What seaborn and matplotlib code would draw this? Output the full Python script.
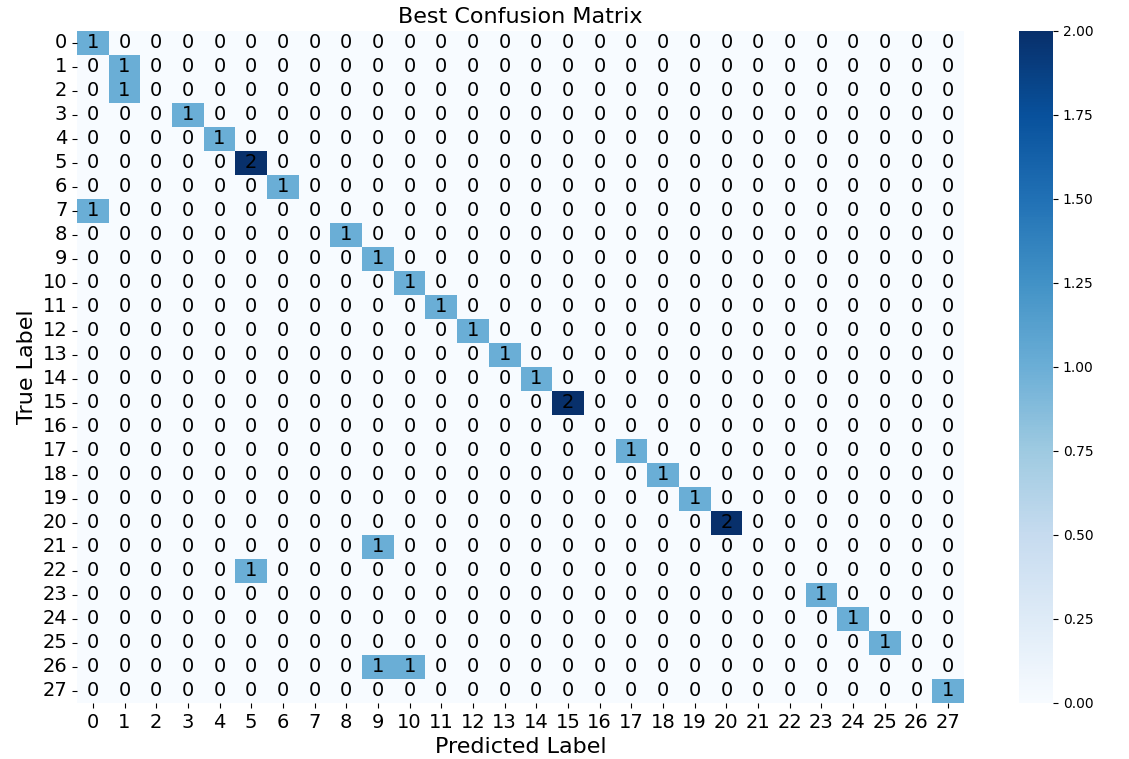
import numpy as np
import pandas as pd
import seaborn as sns
import matplotlib.pyplot as plt

n_classes = 28
labels = list(range(n_classes))

# nonzero cells of the confusion matrix
true_idx = [0, 1, 2, 3, 4, 5, 6, 7, 8, 9, 10, 11, 12, 13, 14, 15, 17, 18, 19, 20, 21, 22, 23, 24, 25, 26, 26, 27]
pred_idx = [0, 1, 1, 3, 4, 5, 6, 0, 8, 9, 10, 11, 12, 13, 14, 15, 17, 18, 19, 20, 9, 5, 23, 24, 25, 9, 10, 27]
counts = [1, 1, 1, 1, 1, 2, 1, 1, 1, 1, 1, 1, 1, 1, 1, 2, 1, 1, 1, 2, 1, 1, 1, 1, 1, 1, 1, 1]

cm = np.zeros((n_classes, n_classes), dtype=int)
for t, p, c in zip(true_idx, pred_idx, counts):
    cm[t, p] += c
cm = pd.DataFrame(cm, index=labels, columns=labels)

W, H = 1129, 759
fig = plt.figure(figsize=(W / 100, H / 100), dpi=100)
ax = fig.add_axes([77 / W, 1 - 703 / H, (964 - 77) / W, (703 - 31) / H])
cax = fig.add_axes([1019 / W, 1 - 703 / H, (1053 - 1019) / W, (703 - 31) / H])
sns.heatmap(cm, annot=True, fmt="d", cmap="Blues", ax=ax, cbar_ax=cax,
            annot_kws={"size": 14, "color": "black"})
ax.set_title("Best Confusion Matrix", fontsize=16)
ax.set_xlabel("Predicted Label", fontsize=16)
ax.set_ylabel("True Label", fontsize=16)
ax.tick_params(axis="both", labelsize=14)
ax.set_yticklabels(ax.get_yticklabels(), rotation=0)
ax.set_xticklabels(ax.get_xticklabels(), rotation=0)
plt.savefig("out.png", dpi=100)
